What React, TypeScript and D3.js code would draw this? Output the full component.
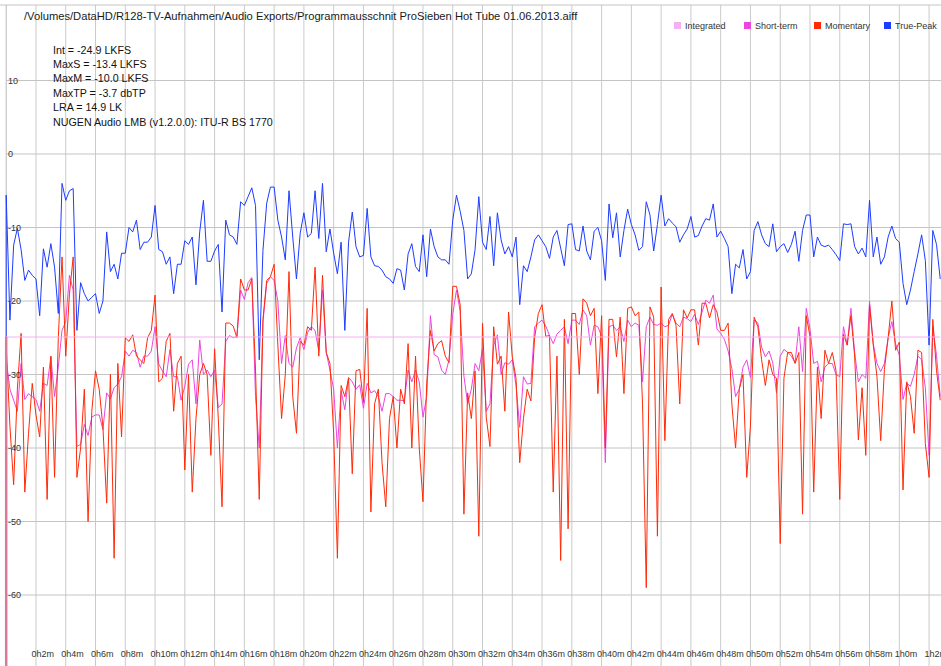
import * as d3 from "d3";

// loudness log, one sample every 0.25 min (values in dB / LUFS)
const STEP_MIN = 0.25;
const FLOOR_DB = -70; // -inf at the very start

const TRUE_PEAK = [
  -5.6, -22.6, -12.4, -10.1, -13, -17.2, -15.8, -16.5, -17, -22,
  -12.9, -15.4, -12.2, -15.4, -21.7, -4, -6.3, -5, -4.7, -24,
  -17.5, -19, -20, -19.5, -19, -21.7, -20, -10.6, -16, -15,
  -17, -13.5, -13.5, -10, -10.6, -9, -13, -12, -12, -11.3,
  -7, -13, -13.3, -15, -14, -19, -15, -15, -11.8, -12.3,
  -11.3, -17.8, -10.6, -6.3, -14.6, -14.6, -13.2, -12.3, -21.5, -9,
  -11, -11.3, -12.3, -6.5, -7, -5.8, -4.6, -7, -28, -13.1,
  -6.7, -4.5, -4.5, -9, -11.3, -14.4, -5, -11.3, -17, -10.8,
  -8, -11.3, -10.8, -5, -11.5, -4, -13.3, -10.2, -13.5, -16.3,
  -12, -24, -12, -7.9, -12.6, -14, -13.8, -7.4, -14, -15.2,
  -15.3, -15.8, -16.7, -17, -17.6, -15.6, -15.8, -18.5, -13.6, -12.2,
  -15.3, -16, -11, -16.7, -10.2, -12.6, -14, -14.4, -14.4, -15,
  -9, -5.6, -7.8, -10.4, -17, -16.3, -13, -5.8, -12, -13,
  -8.5, -15.2, -8, -11.7, -13.6, -12.6, -14, -11.3, -20.5, -15.2,
  -16, -14, -11.7, -11, -11.8, -12.6, -14.2, -11.3, -10.4, -12.8,
  -15.2, -9.6, -9.5, -13, -13.2, -9.8, -13.2, -14.4, -10.5, -10,
  -11.8, -17.2, -6.8, -11.4, -8, -14, -10.4, -7.5, -9.6, -11,
  -13.1, -12.6, -6.5, -8.3, -13.2, -9.6, -5.6, -9.8, -8.8, -9.4,
  -9.9, -12, -11, -10.2, -8.5, -11.3, -11.1, -9.8, -8.8, -9,
  -6.8, -11.3, -10.5, -11.5, -12.6, -19, -15, -15.5, -13, -17,
  -16, -10.4, -9.2, -11, -12.2, -12.6, -9.5, -13.3, -12.6, -12.2,
  -13.4, -12.3, -10.5, -14.6, -10.4, -8.3, -8.3, -14, -11.3, -12.4,
  -12.6, -12.4, -13, -13.7, -14.5, -9.5, -9.6, -9.5, -12.6, -13.6,
  -12.8, -14, -6.3, -14, -11.3, -15, -14, -11.3, -9.8, -11.5,
  -12, -17.6, -20.5, -18.5, -16, -13.6, -11, -14.5, -26, -10.4,
  -12.3, -17,
];

const MOMENTARY = [
  -26, -37, -45, -32, -24.4, -46, -38, -31.2, -35.5, -38.5,
  -29, -47, -27.5, -44, -25, -14, -27.5, -19, -14, -44,
  -40, -32, -50, -35, -29.5, -32, -37.2, -47.5, -30, -55,
  -28.5, -38.5, -25, -25.5, -24.6, -27.5, -28, -28.5, -25, -24,
  -19.2, -31, -30.5, -25.5, -24.4, -35, -28.5, -27.5, -43, -30,
  -46, -36, -30, -28.5, -30, -41, -26.5, -36, -48, -23,
  -23, -23.4, -25, -17, -18.5, -18.5, -17, -29.4, -47, -22.5,
  -17.2, -16.7, -15, -26, -36, -30, -16, -33, -38, -25.5,
  -26, -23.5, -24, -15.4, -27.5, -16.5, -27, -28.5, -38, -55,
  -31.5, -33, -30.5, -43.5, -29.5, -29.3, -33.8, -21, -48.7, -34,
  -32, -42, -48, -36, -33, -40, -32, -34, -25.8, -40,
  -27.5, -40, -47.3, -31.2, -24, -26.8, -25.8, -25.4, -27.5, -28.4,
  -18, -18, -20.5, -49, -32.5, -36, -29.5, -52, -23, -35.8,
  -39.8, -23.5, -28.6, -27.5, -35, -21.5, -27.6, -30.5, -42, -36,
  -32, -33.6, -25, -21.7, -20.5, -24.8, -24.7, -46, -27.5, -55.3,
  -22.5, -51, -21.7, -21.7, -30, -19.7, -20.3, -22, -21, -32.6,
  -22, -40, -22.5, -22.5, -27.6, -22.2, -32.6, -21, -20.8, -22,
  -21.5, -34, -59, -20.8, -22.2, -52, -18.1, -39, -22.5, -21.7,
  -23.3, -34, -21.2, -22.3, -21.2, -21.2, -26, -20.3, -20.3, -22.3,
  -20.5, -21.5, -24, -24, -23, -34, -40, -32, -30, -44,
  -37, -22.2, -23.5, -28, -31.5, -28, -30, -30.5, -53, -30.5,
  -27, -27, -28.5, -27, -49, -22, -24.8, -46, -29, -36,
  -26.7, -28.5, -27, -29.5, -47, -24.5, -26, -22, -27.5, -38.9,
  -31.8, -41, -20.5, -26, -30.3, -39, -29.3, -25, -20, -26.7,
  -25.6, -45.7, -31, -33, -38, -26.7, -27, -39.4, -44, -22.5,
  -29.5, -33.5,
];

const SHORT_TERM = [
  -28, -32, -33.5, -35, -28.5, -33.4, -32.6, -33, -33.4, -35,
  -31.2, -31.5, -27.6, -33, -29, -24, -22.8, -16.5, -18.5, -39.8,
  -39.5, -36.8, -38.3, -35.8, -35.5, -35.5, -37.5, -32.5, -33.3, -31.8,
  -31.3, -30.3, -26.8, -27.5, -26.7, -27, -29, -27.5, -27.5, -26.8,
  -23.5, -28.6, -29.5, -30.3, -26.6, -30.3, -30.3, -33.5, -31.6, -28.6,
  -28, -34, -25.3, -30, -29.4, -30.3, -29.4, -34.5, -34, -25.5,
  -24.7, -25, -24.8, -18.5, -19.8, -17.5, -16.8, -33, -40, -22.8,
  -17.6, -16.7, -17.2, -20, -28.5, -24.7, -28.5, -29, -26.4, -25,
  -26.6, -24.3, -23.5, -24, -26.8, -18.5, -27, -29.4, -32, -40,
  -32.2, -34.8, -30.4, -31, -32, -31.4, -34.6, -31.2, -32.5, -32.2,
  -33, -35, -32.6, -32.6, -33, -33.5, -33.5, -33.6, -29.4, -31,
  -29.4, -31, -35.8, -33, -22, -27.3, -27.6, -29.4, -30, -28,
  -21.8, -18.5, -21.4, -30.2, -34, -32, -28.5, -29.5, -26.5, -35,
  -34, -26, -24.6, -30, -28.4, -28.6, -28, -31.5, -37.2, -30.3,
  -31.3, -31.2, -23.5, -23, -22.6, -23.4, -24.7, -25.8, -24.5, -24,
  -23.5, -25.8, -22.6, -22.6, -23.2, -21.2, -22, -26, -23.3, -23.5,
  -24.8, -42, -23.5, -23.3, -24, -23.5, -25.5, -22.6, -23.5, -23,
  -23.3, -31, -23.5, -22.2, -23.2, -23.3, -23, -23.5, -23.3, -21.8,
  -23, -23.5, -22.2, -22.4, -22.8, -21.8, -23.2, -21.5, -19.9, -20.3,
  -19.2, -23.8, -24.4, -25.2, -26.8, -29.2, -33, -32, -29, -28,
  -30.4, -22.6, -23, -26.3, -27.6, -26.8, -28.4, -32.5, -27.5, -26.6,
  -27, -27.5, -28.4, -23.5, -29.6, -21, -23.8, -28.5, -28.2, -31,
  -29, -28.5, -28.5, -30, -30.3, -23.5, -26, -21, -27, -31,
  -30, -30.5, -20, -25.8, -28.5, -29.6, -28.5, -25, -22.8, -25.8,
  -27.4, -33.4, -31.2, -31.6, -30, -27.5, -28, -31.8, -41, -23.5,
  -27.4, -33,
];

const INTEGRATED = -24.9;

const Y_TICKS = [10, 0, -10, -20, -30, -40, -50, -60];
const X_TICKS_MIN = d3.range(2, 63, 2);

const TITLE =
  "/Volumes/DataHD/R128-TV-Aufnahmen/Audio Exports/Programmausschnit ProSieben Hot Tube 01.06.2013.aiff";
const STATS = [
  "Int = -24.9 LKFS",
  "MaxS = -13.4 LKFS",
  "MaxM = -10.0 LKFS",
  "MaxTP = -3.7 dbTP",
  "LRA = 14.9 LK",
  "NUGEN Audio LMB (v1.2.0.0): ITU-R BS 1770",
];

const LEGEND = [
  { name: "Integrated", color: "#f7b0ef" },
  { name: "Short-term", color: "#ec45e0" },
  { name: "Momentary", color: "#ff2a08" },
  { name: "True-Peak", color: "#1d3cff" },
];

const W = 941;
const H = 666;
const FONT = "'Liberation Sans', Arial, sans-serif";

const fmtTime = (m: number) => `${Math.floor(m / 60)}h${m % 60}m`;

export default function App() {
  const x = d3.scaleLinear().domain([0, 60]).range([6.2, 899.3]);
  const y = d3.scaleLinear().domain([-60, 10]).range([595, 80.5]);
  const top = 5;
  const left = x(0);
  const endT = (TRUE_PEAK.length - 1) * STEP_MIN;

  const toPoints = (vals: number[]) => [
    [0, FLOOR_DB] as [number, number],
    ...vals.map((v, i) => [i * STEP_MIN, v] as [number, number]),
  ];
  const line = d3
    .line<[number, number]>()
    .x((d) => x(d[0]))
    .y((d) => y(d[1]));

  const integratedPts: [number, number][] = [
    [0, FLOOR_DB],
    [0, INTEGRATED],
    [endT, INTEGRATED],
  ];

  return (
    <svg
      width={W}
      height={H}
      style={{ position: "absolute", left: 0, top: 0, background: "#fff" }}
      fontFamily={FONT}
    >
      {/* grid */}
      <line x1={0} x2={W} y1={top} y2={top} stroke="#c4c4c4" />
      {X_TICKS_MIN.map((m) => (
        <line key={m} x1={x(m)} x2={x(m)} y1={top} y2={H} stroke="#cacaca" />
      ))}
      {Y_TICKS.map((v) => (
        <line key={v} x1={left} x2={W} y1={y(v)} y2={y(v)} stroke="#c4c4c4" />
      ))}
      <line x1={left} x2={left} y1={top} y2={H} stroke="#b8b8b8" />

      {/* series */}
      <path d={line(toPoints(SHORT_TERM)) || ""} fill="none" stroke={LEGEND[1].color} strokeWidth={1} />
      <path d={line(toPoints(MOMENTARY)) || ""} fill="none" stroke={LEGEND[2].color} strokeWidth={1} />
      <path d={line(toPoints(TRUE_PEAK)) || ""} fill="none" stroke={LEGEND[3].color} strokeWidth={1} />
      <path d={line(integratedPts) || ""} fill="none" stroke={LEGEND[0].color} strokeWidth={1} />
      <line
        x1={left}
        x2={left}
        y1={y(INTEGRATED)}
        y2={H}
        stroke="#d97a9a"
        strokeWidth={2.5}
      />

      {/* axis labels */}
      {Y_TICKS.map((v) => (
        <text key={v} x={8} y={y(v)} dy="0.35em" fontSize={9} fill="#333">
          {v}
        </text>
      ))}
      {X_TICKS_MIN.map((m) => (
        <text key={m} x={x(m) - 4.5} y={657} fontSize={9} fill="#333">
          {fmtTime(m)}
        </text>
      ))}

      {/* header */}
      <text x={24} y={20} fontSize={11.2} fill="#1a1a1a">
        {TITLE}
      </text>
      {STATS.map((s, i) => (
        <text key={s} x={53} y={53.5 + i * 14.4} fontSize={10.7} fill="#111">
          {s}
        </text>
      ))}

      {/* legend */}
      {LEGEND.map((l, i) => (
        <g key={l.name} transform={`translate(${674 + i * 70},22)`}>
          <rect width={7} height={7} fill={l.color} />
          <text x={11} y={6.5} fontSize={9} fill="#333">
            {l.name}
          </text>
        </g>
      ))}
    </svg>
  );
}
